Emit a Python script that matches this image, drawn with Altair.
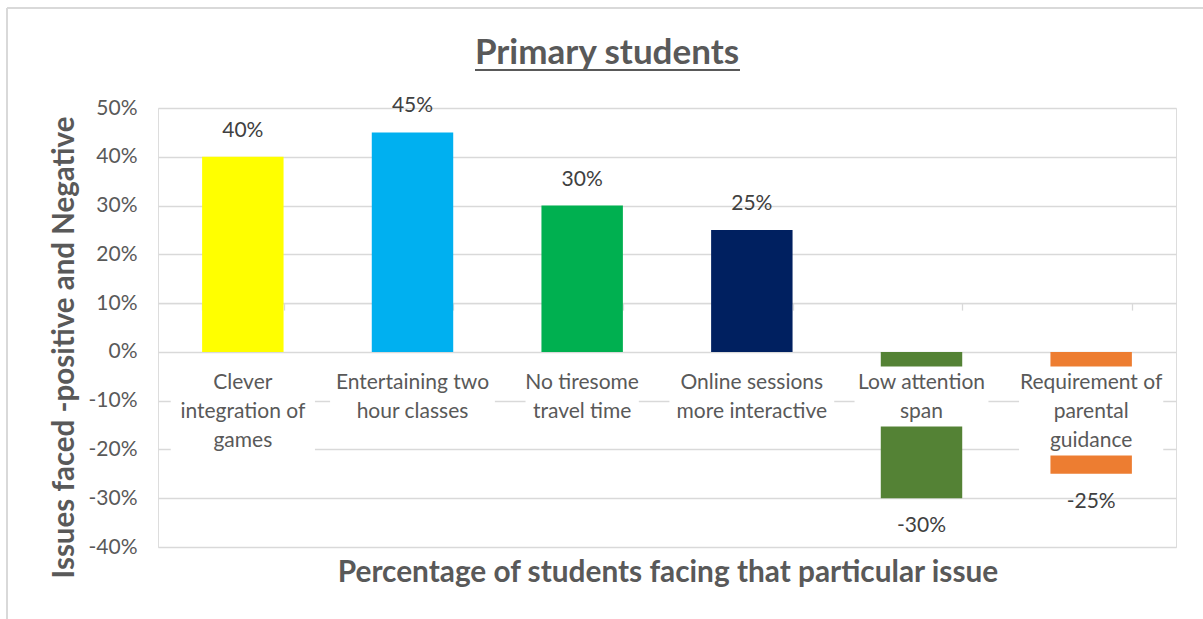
import altair as alt
import pandas as pd

# ---- data ----
categories = [
    "Clever\nintegration of\ngames",
    "Entertaining two\nhour classes",
    "No tiresome\ntravel time",
    "Online sessions\nmore interactive",
    "Low attention\nspan",
    "Requirement of\nparental\nguidance",
]
values = [0.40, 0.45, 0.30, 0.25, -0.30, -0.25]
bar_colors = ["#FFFF00", "#00B0F0", "#00B050", "#002060", "#548235", "#ED7D31"]
y_ticks = [-0.4, -0.3, -0.2, -0.1, 0.0, 0.1, 0.2, 0.3, 0.4, 0.5]
title_text = "Primary students"
y_title = "Issues faced -positive and Negative"
x_title = "Percentage of students facing that particular issue"

FONT = "Lato"
TXT = "#595959"
GRID = "#D9D9D9"

W, H = 1018, 439
PAD_L, PAD_T = 158, 108
ymin, ymax = -0.4, 0.5
px_per_unit = H / (ymax - ymin)
LINE_H = 29
LABEL_TOP = 16.5  # px below zero line where label block starts

rows = []
for c, v, col in zip(categories, values, bar_colors):
    lines = c.split("\n")
    rows.append({
        "cat": c,
        "value": v,
        "color": col,
        "nlines": len(lines),
        "box_top": -(LABEL_TOP - 2) / px_per_unit,
        "box_bottom": -(LABEL_TOP + LINE_H * len(lines)) / px_per_unit,
        "box_w": max(len(s) for s in lines) * 10.3,
    })
df = pd.DataFrame(rows)

xenc = alt.X("cat:N", sort=categories,
             scale=alt.Scale(paddingInner=0.52, paddingOuter=0.26),
             axis=alt.Axis(title=None, labels=False, offset=-(H - (0 - ymin) * px_per_unit),
                           domainColor=GRID, domainWidth=1.3,
                           ticks=True, tickBand="extent", tickColor=GRID,
                           tickSize=7, tickWidth=1.3, grid=False))
yscale = alt.Scale(domain=[ymin, ymax], nice=False, zero=False)

base = alt.Chart(df)

bars = base.mark_bar().encode(
    x=xenc,
    y=alt.Y("value:Q", scale=yscale,
            axis=alt.Axis(values=y_ticks, labelExpr="round(datum.value*100) + '%'",
                          labelFont=FONT, labelFontSize=21, labelColor=TXT,
                          labelPadding=21, ticks=False, domain=False,
                          gridColor=GRID, gridWidth=1.3,
                          title=y_title, titleFont=FONT, titleFontSize=29.5,
                          titleFontWeight="bold", titleColor=TXT,
                          titleAngle=270, titleX=-94, titleY=239,
                          titleAlign="center", titleBaseline="middle")),
    y2=alt.datum(0),
    color=alt.Color("color:N", scale=None),
)

knock = base.mark_bar(color="white").encode(
    x=alt.X("cat:N", sort=categories),
    y=alt.Y("box_top:Q"),
    y2="box_bottom:Q",
    size=alt.Size("box_w:Q", scale=None),
)

cat_text = base.transform_calculate(
    lines="split(datum.cat, '\\n')"
).mark_text(font=FONT, fontSize=21, color=TXT, baseline="line-top",
            lineHeight=LINE_H, dy=LABEL_TOP, align="center").encode(
    x=alt.X("cat:N", sort=categories),
    y=alt.datum(0),
    text="lines:N",
)

val_pos = base.transform_filter("datum.value >= 0").transform_calculate(
    lbl="round(datum.value*100) + '%'"
).mark_text(font=FONT, fontSize=21, color="#404040", baseline="middle", dy=-26).encode(
    x=alt.X("cat:N", sort=categories), y="value:Q", text="lbl:N")

val_neg = base.transform_filter("datum.value < 0").transform_calculate(
    lbl="round(datum.value*100) + '%'"
).mark_text(font=FONT, fontSize=21, color="#404040", baseline="middle", dy=28).encode(
    x=alt.X("cat:N", sort=categories), y="value:Q", text="lbl:N")

tdf = pd.DataFrame({"t": [title_text]})
title = alt.Chart(tdf).mark_text(font=FONT, fontSize=35, fontWeight="bold", color=TXT,
                                 baseline="middle", align="center").encode(
    x=alt.value(607 - PAD_L), y=alt.value(53 - PAD_T), text="t:N")
underline = alt.Chart(tdf).mark_rule(color=TXT, strokeWidth=2).encode(
    x=alt.value(475 - PAD_L), x2=alt.value(740 - PAD_L),
    y=alt.value(70 - PAD_T))

xdf = pd.DataFrame({"t": [x_title]})
xt = alt.Chart(xdf).mark_text(font=FONT, fontSize=29.8, fontWeight="bold", color=TXT,
                              baseline="middle", align="center").encode(
    x=alt.value(668 - PAD_L), y=alt.value(573 - PAD_T), text="t:N")

border_top = alt.Chart(tdf).mark_rule(color=GRID, strokeWidth=2).encode(
    x=alt.value(7 - PAD_L), x2=alt.value(1203 - PAD_L), y=alt.value(8 - PAD_T))
border_left = alt.Chart(tdf).mark_rule(color=GRID, strokeWidth=2).encode(
    x=alt.value(7 - PAD_L), y=alt.value(8 - PAD_T), y2=alt.value(619 - PAD_T))

chart = alt.layer(bars, knock, cat_text, val_pos, val_neg, title, underline, xt,
                  border_top, border_left).properties(
    width=W, height=H,
    autosize=alt.AutoSizeParams(type="none"),
    padding={"left": PAD_L, "top": PAD_T, "right": 1203 - PAD_L - W, "bottom": 619 - PAD_T - H},
).configure_view(stroke=None).configure(background="white")

chart.save("out.html", embed_options={"renderer": "svg", "actions": False})
